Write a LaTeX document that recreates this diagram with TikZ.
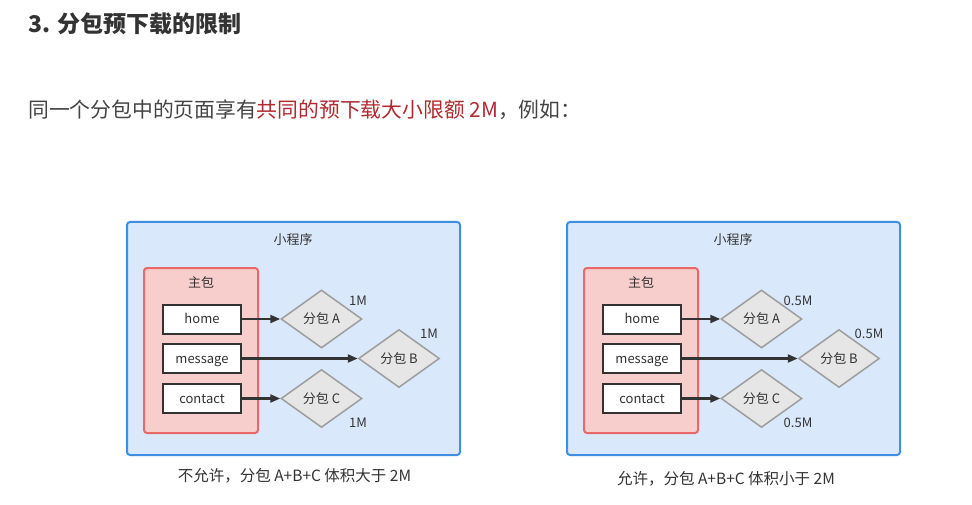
\documentclass[tikz,border=0pt]{standalone}
\usepackage{fontspec}
\setmainfont{Noto Sans CJK SC}
\usetikzlibrary{shapes.geometric,arrows.meta}
\definecolor{txt}{HTML}{333333}
\definecolor{bodytxt}{HTML}{444444}
\definecolor{hlred}{HTML}{B02A2E}
\definecolor{bluefill}{HTML}{DAE8FC}
\definecolor{blueline}{HTML}{3D8FE3}
\definecolor{redfill}{HTML}{F8CECC}
\definecolor{redline}{HTML}{E86A68}
\definecolor{grayfill}{HTML}{E6E6E6}
\definecolor{grayline}{HTML}{9E9E9E}
\tikzset{
  appbox/.style={draw=blueline, fill=bluefill, line width=2pt, rounded corners=3pt, minimum width=333pt, minimum height=233pt, inner sep=0pt},
  mainbox/.style={draw=redline, fill=redfill, line width=2pt, rounded corners=3pt, minimum width=114pt, minimum height=165pt, inner sep=0pt},
  pagebox/.style={draw=txt, fill=white, line width=2pt, minimum width=78pt, minimum height=29pt, inner sep=0pt, text=txt, text height=9.5pt, text depth=0.5pt, font=\fontsize{13}{15}\selectfont},
  subpkg/.style={diamond, draw=grayline, fill=grayfill, line width=1.5pt, minimum width=81pt, minimum height=58pt, inner sep=0pt, text=txt, font=\fontsize{13}{15}\selectfont},
  lbl/.style={text=txt, inner sep=0pt, font=\fontsize{13}{15}\selectfont},
  conn/.style={draw=txt, line width=2.2pt, -{Triangle[length=10pt,width=8pt]}},
  caption/.style={text=txt, inner sep=0pt, font=\fontsize{15.5}{18}\selectfont},
}
\newcommand\pkgdiagram[5]{%
  \begin{scope}[xshift=#2]
    \node[appbox] (#1app) at (293.5,338.5) {};
    \node[lbl] (#1apptitle) at (293,240) {小程序};
    \node[mainbox] (#1main) at (201,350.5) {};
    \node[lbl] (#1maintitle) at (201,282) {主包};
    \node[pagebox] (#1home) at (202,319) {home};
    \node[pagebox] (#1msg) at (202,358.5) {message};
    \node[pagebox] (#1contact) at (202,398.5) {contact};
    \node[subpkg] (#1A) at (321.5,319) {分包 A};
    \node[subpkg] (#1B) at (399,358.5) {分包 B};
    \node[subpkg] (#1C) at (321.5,398.5) {分包 C};
    \node[lbl] (#1la) at (358,301) {#3};
    \node[lbl] (#1lb) at (429,334) {#4};
    \node[lbl] (#1lc) at (358,423) {#5};
    \draw[conn] (#1home) -- (#1A.west);
    \draw[conn] (#1msg) -- (#1B.west);
    \draw[conn] (#1contact) -- (#1C.west);
  \end{scope}}
\begin{document}
\begin{tikzpicture}[x=1pt,y=-1pt]
\useasboundingbox[fill=white] (0,0) rectangle (972,505);
\node[anchor=west, inner sep=0pt, text=txt, font=\fontsize{23}{27}\selectfont\bfseries] (title) at (28,24) {3. 分包预下载的限制};
\node[anchor=west, inner sep=0pt, text=bodytxt, font=\fontsize{20.8}{25}\selectfont] (intro) at (28,110) {同一个分包中的页面享有\textcolor{hlred}{共同的预下载大小限额 2M}，例如：};
\pkgdiagram{l}{0pt}{1M}{1M}{1M}
\pkgdiagram{r}{440pt}{0.5M}{0.5M}{0.5M}
\node[caption] (lcap) at (294.5,476) {不允许，分包 A+B+C 体积大于 2M};
\node[caption] (rcap) at (726,479) {允许，分包 A+B+C 体积小于 2M};
\end{tikzpicture}
\end{document}
